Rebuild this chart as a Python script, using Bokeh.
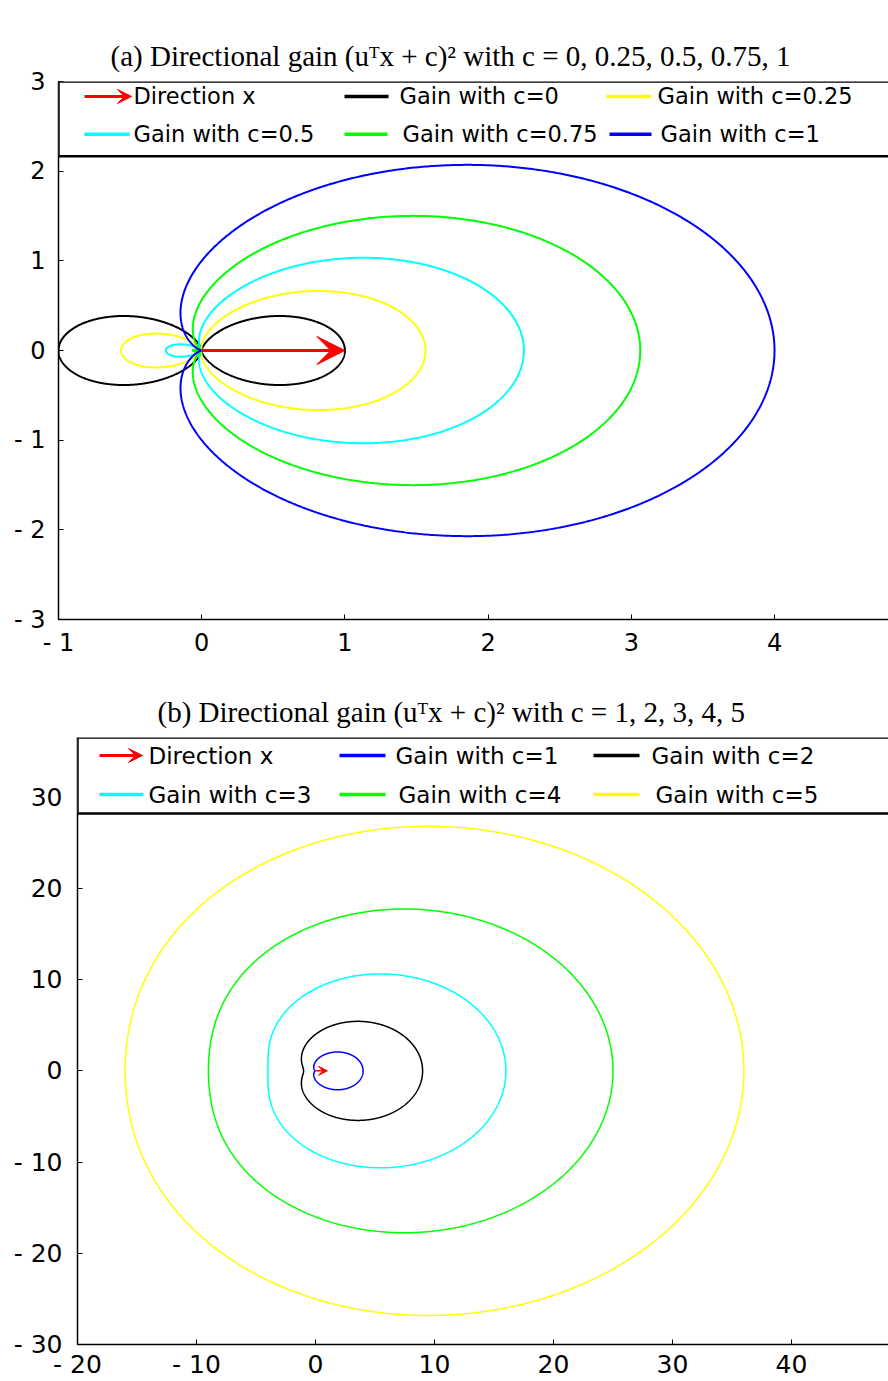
import numpy as np
from bokeh.plotting import figure
from bokeh.models import FixedTicker, Arrow, VeeHead, BoxAnnotation, Label, Range1d, LinearAxis
from bokeh.layouts import column
from bokeh.embed import file_html
from bokeh.resources import INLINE

# ---------------- data ----------------
C_TOP = [0, 0.25, 0.5, 0.75, 1]
C_BOTTOM = [1, 2, 3, 4, 5]
DIRECTION = [1.0, 0.0]          # unit direction vector x

X_TICKS_TOP = [-1, 0, 1, 2, 3, 4]
Y_TICKS_TOP = [-3, -2, -1, 0, 1, 2, 3]
X_TICKS_BOTTOM = [-20, -10, 0, 10, 20, 30, 40]
Y_TICKS_BOTTOM = [-30, -20, -10, 0, 10, 20, 30]

LABELS_TOP = ["Direction x", "Gain with c=0", "Gain with c=0.25",
              "Gain with c=0.5", "Gain with c=0.75", "Gain with c=1"]
LABELS_BOTTOM = ["Direction x", "Gain with c=1", "Gain with c=2",
                 "Gain with c=3", "Gain with c=4", "Gain with c=5"]

TITLE_TOP = "(a) Directional gain (u\u1d40x + c)\u00b2 with c = 0, 0.25, 0.5, 0.75, 1"
TITLE_BOTTOM = "(b) Directional gain (u\u1d40x + c)\u00b2 with c = 1, 2, 3, 4, 5"

# ---------------- styles ----------------
COLORS_TOP = ["black", "#ffff00", "#00ffff", "#00ff00", "#0000ff"]
COLORS_BOTTOM = ["#0000ff", "black", "#00ffff", "#00ff00", "#ffff00"]
ARROW_COLOR = "#ff0000"
SANS = "DejaVu Sans"
SERIF = "Liberation Serif"


def gain_curve(c, n=1441):
    th = np.linspace(0, 2 * np.pi, n)
    r = (np.cos(th) * DIRECTION[0] + np.sin(th) * DIRECTION[1] + c) ** 2
    return r * np.cos(th), r * np.sin(th)


def fmt(t):
    return "- %d" % abs(t) if t < 0 else "%d" % t


class Geo:
    """Maps pixel offsets from the frame's top-left corner to data coordinates."""
    def __init__(self, xr, yr, fw, fh):
        self.xr, self.yr, self.fw, self.fh = xr, yr, fw, fh

    def X(self, dx):
        return self.xr[0] + dx * (self.xr[1] - self.xr[0]) / self.fw

    def Y(self, dy):
        return self.yr[1] - dy * (self.yr[1] - self.yr[0]) / self.fh


def make_fig(g, title, title_offset, gap, ml, mt, mb, xt, yt, tick_font,
             x_standoff, y_standoff):
    p = figure(x_range=Range1d(*g.xr), y_range=Range1d(*g.yr),
               width=ml + g.fw, height=mt + g.fh + mb,
               output_backend="svg", toolbar_location=None, frame_align=False,
               min_border_left=ml, min_border_right=0, min_border_top=mt,
               min_border_bottom=mb, title=title)
    p.title.text_font = SERIF
    p.title.text_font_size = "29px"
    p.title.text_font_style = "normal"
    p.title.text_color = "black"
    p.title.align = "left"
    p.title.vertical_align = "top"
    p.title.offset = title_offset
    p.title.standoff = 16
    p.grid.visible = False
    p.outline_line_color = None
    p.background_fill_color = "white"
    p.border_fill_color = "white"
    x_axis = p.below[0]
    y_axis = p.left[0]
    for ax, ticks, so in ((x_axis, xt, x_standoff), (y_axis, yt, y_standoff)):
        ax.ticker = FixedTicker(ticks=ticks)
        ax.major_label_overrides = {t: fmt(t) for t in ticks}
        ax.minor_tick_line_color = None
        ax.major_tick_in = 5
        ax.major_tick_out = 0
        ax.major_tick_line_color = "black"
        ax.axis_line_color = "black"
        ax.axis_line_width = 1.5
        ax.major_label_text_font = SANS
        ax.major_label_text_font_size = tick_font
        ax.major_label_text_color = "black"
        ax.major_label_standoff = so
    # empty, invisible top axis used only as a gap between the title and the frame
    p.add_layout(LinearAxis(ticker=FixedTicker(ticks=[]), axis_line_color=None,
                            major_tick_in=0, major_tick_out=gap, minor_tick_in=0,
                            minor_tick_out=0, major_tick_line_color=None,
                            minor_tick_line_color=None, major_label_standoff=0),
                 "above")
    return p


def add_legend(p, g, box_bottom, rows, items, labels, colors, head_size, font):
    p.add_layout(BoxAnnotation(bottom=g.Y(box_bottom), right=g.X(g.fw + 40),
                               fill_color="white", fill_alpha=1.0,
                               line_color="black", line_alpha=1.0, line_width=2.5,
                               level="annotation"))
    for k, (lab, (g0, g1, tx)) in enumerate(zip(labels, items)):
        yy = g.Y(rows[k // 3])
        if k == 0:
            p.add_layout(Arrow(x_start=g.X(g0), y_start=yy, x_end=g.X(g1), y_end=yy,
                               line_color=ARROW_COLOR, line_width=3,
                               end=VeeHead(size=head_size, fill_color=ARROW_COLOR,
                                           line_color=ARROW_COLOR), level="annotation"))
        else:
            p.add_layout(Arrow(x_start=g.X(g0), y_start=yy, x_end=g.X(g1), y_end=yy,
                               line_color=colors[k - 1], line_width=3.5, end=None,
                               level="annotation"))
        p.add_layout(Label(x=g.X(tx), y=yy, text=lab, text_baseline="middle",
                           text_align="left", text_font=SANS, text_font_size=font,
                           text_color="black", level="annotation"))


# ---------------- top figure ----------------
g1 = Geo((-1, 4.796), (-3, 3), 830, 540)
p1 = make_fig(g1, TITLE_TOP, 52, 29, 58, 81, 38, X_TICKS_TOP, Y_TICKS_TOP, "24px", 9, 13)
for c, col in zip(C_TOP, COLORS_TOP):
    x, y = gain_curve(c)
    p1.line(x=x, y=y, line_color=col, line_width=2)
p1.add_layout(Arrow(x_start=0, y_start=0, x_end=DIRECTION[0], y_end=DIRECTION[1],
                    line_color=ARROW_COLOR, line_width=3,
                    end=VeeHead(size=28, fill_color=ARROW_COLOR, line_color=ARROW_COLOR)))
add_legend(p1, g1, 75, [15, 53],
           [(26, 73, 75), (286, 330, 341), (548, 593, 599),
            (26, 71, 75), (286, 329, 344), (551, 593, 602)],
           LABELS_TOP, COLORS_TOP, 14, "22.5px")

# ---------------- bottom figure ----------------
g2 = Geo((-20, 48.15), (-30, 36.55), 811, 607)
p2 = make_fig(g2, TITLE_BOTTOM, 80, 25, 77, 78, 37, X_TICKS_BOTTOM, Y_TICKS_BOTTOM, "25px",
              5, 15)
for c, col in zip(C_BOTTOM, COLORS_BOTTOM):
    x, y = gain_curve(c)
    p2.line(x=x, y=y, line_color=col, line_width=1.5)
p2.add_layout(Arrow(x_start=0, y_start=0, x_end=DIRECTION[0], y_end=DIRECTION[1],
                    line_color=ARROW_COLOR, line_width=1.5,
                    end=VeeHead(size=9, fill_color=ARROW_COLOR, line_color=ARROW_COLOR)))
add_legend(p2, g2, 76, [18, 57],
           [(22, 65, 71), (262, 308, 318), (516, 562, 574),
            (22, 66, 71), (262, 308, 321), (516, 562, 578)],
           LABELS_BOTTOM, COLORS_BOTTOM, 14, "23px")

layout = column(p1, p2, spacing=0)
open("out.html", "w").write(file_html(layout, INLINE))
